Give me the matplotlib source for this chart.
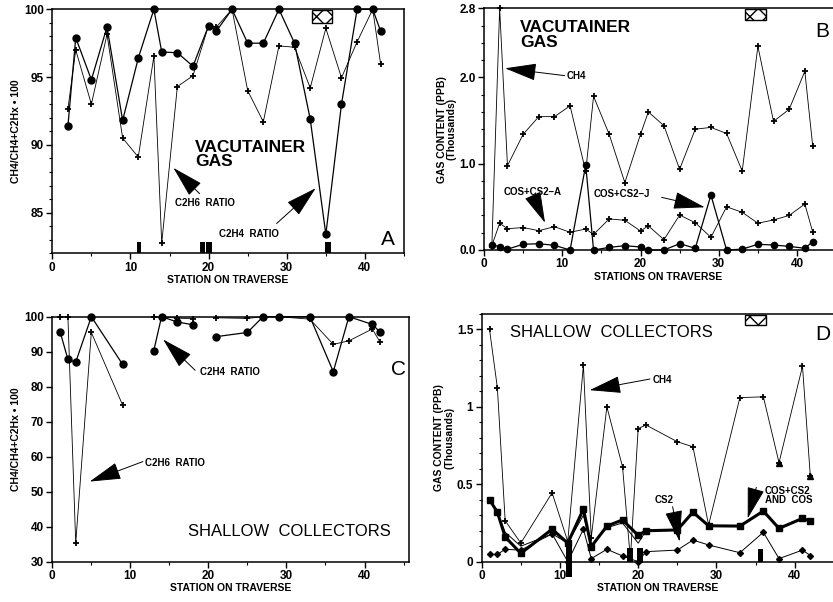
import numpy as np
import matplotlib
matplotlib.use("Agg")
import matplotlib.pyplot as plt
from matplotlib.patches import Rectangle
from matplotlib.ticker import MultipleLocator

plt.rcParams['font.family'] = ['Liberation Sans', 'DejaVu Sans']

# ---- panel A: vacutainer gas ratios
st_a = [2, 3, 5, 7, 9, 11, 13, 14, 16, 18, 20, 21, 23, 25, 27, 29, 31, 33, 35, 37, 39, 41, 42]
c2h4_a = [91.4, 97.9, 94.8, 98.7, 91.8, 96.4, 100, 96.85, 96.8, 95.8, 98.8, 98.4, 100,
          97.5, 97.5, 100, 97.5, 91.9, 83.4, 93.0, 100, 100, 98.4]
c2h6_a = [92.65, 97.0, 93.0, 98.15, 90.5, 89.1, 96.55, 82.75, 94.3, 95.1, 98.8, 98.7, 100,
          94.0, 91.7, 97.3, 97.2, 94.2, 98.6, 94.95, 97.6, 100, 96.0]

# ---- panel B: vacutainer gas content (thousands ppb)
st_b = [1, 2, 3, 5, 7, 9, 11, 13, 14, 16, 18, 20, 21, 23, 25, 27, 29, 31, 33, 35, 37, 39, 41, 42]
ch4_b = [0.04, 2.8, 0.977, 1.34, 1.545, 1.545, 1.67, 0.91, 1.78, 1.34, 0.78, 1.34, 1.60,
         1.44, 0.935, 1.40, 1.42, 1.35, 0.915, 2.36, 1.49, 1.63, 2.07, 1.21]
cos_a_b = [0.05, 0.31, 0.247, 0.26, 0.224, 0.27, 0.205, 0.243, 0.18, 0.36, 0.344, 0.22, 0.28,
           0.12, 0.405, 0.316, 0.147, 0.50, 0.437, 0.31, 0.348, 0.40, 0.533, 0.21]
cos_j_b = [0.058, 0.04, 0.01, 0.066, 0.073, 0.054, 0.0, 0.985, 0.0, 0.03, 0.05, 0.035, 0.0,
           0.0, 0.073, 0.02, 0.637, 0.0, 0.01, 0.066, 0.058, 0.042, 0.02, 0.096]

# ---- panel C: shallow collector ratios (nan = no sample)
st_c = [1, 2, 3, 5, 9, 11, 13, 14, 16, 18, 20, 21, 25, 27, 29, 33, 36, 38, 41, 42]
c2h4_c = [95.7, 87.8, 87.0, 100, 86.4, np.nan, 90.3, 100, 98.5, 97.7, np.nan, 94.3, 95.5,
          100, 100, 100, 84.3, 100, 97.8, 95.6]
c2h6_c = [100, 100, 35.3, 95.5, 74.8, np.nan, 99.8, 100, 99.6, 99.4, np.nan, 99.7, 99.5,
          100, 100, 99.3, 92.1, 93.1, 96.5, 92.7]

# ---- panel D: shallow collector gas content (thousands ppb)
st_d_ch4 = [1, 2, 3, 5, 9, 11, 13, 14, 16, 18, 19, 20, 21, 25, 27, 29, 33, 36, 38, 41, 42]
ch4_d = [1.5, 1.125, 0.265, 0.12, 0.445, 0.13, 1.27, 0.155, 1.0, 0.613, 0.02, 0.86, 0.883,
         0.775, 0.742, 0.237, 1.06, 1.065, 0.64, 1.263, 0.553]
st_d = [1, 2, 3, 5, 9, 11, 13, 14, 16, 18, 20, 21, 25, 27, 29, 33, 36, 38, 41, 42]
coscs2_d = [0.40, 0.32, 0.16, 0.054, 0.21, 0.12, 0.34, 0.097, 0.23, 0.27, 0.17, 0.20, 0.205,
            0.32, 0.232, 0.23, 0.327, 0.215, 0.28, 0.262]
cos_d = [0.40, 0.32, 0.19, 0.10, 0.18, 0.12, 0.30, 0.10, 0.22, 0.25, 0.12, 0.20, 0.205,
         0.32, 0.232, 0.23, 0.327, 0.215, 0.28, 0.262]
cs2_d = [0.047, 0.047, 0.08, 0.075, 0.18, 0.0, 0.21, 0.02, 0.08, 0.037, 0.0, 0.065, 0.075,
         0.14, 0.108, 0.058, 0.19, 0.02, 0.075, 0.04]

W, H = 833, 602
ANN = dict(fontsize=7, fontweight='bold', va='center')


def make_ax(l, r, t, b):
    return fig.add_axes([l / W, 1 - b / H, (r - l) / W, (b - t) / H])


def stars(ax, x, y, lw=0.6):
    ax.plot(x, y, color='black', lw=lw, marker='+', ms=5, mew=1.3, clip_on=False, zorder=3)


def arrow(ax, tail, tip, hl=2.0, hw=0.55):
    ax.annotate('', xy=tip, xytext=tail,
                arrowprops=dict(arrowstyle='-|>,head_length=%s,head_width=%s' % (hl, hw),
                                color='black', lw=0.7, shrinkA=0, shrinkB=0,
                                mutation_scale=10))


def hatch_box(ax, x0, x1, y0, y1):
    ax.add_patch(Rectangle((x0, y0), x1 - x0, y1 - y0, facecolor='white',
                           edgecolor='black', hatch='xx', lw=1.0, zorder=5, clip_on=False))


def black_bar(ax, x0, x1, y0, y1):
    ax.add_patch(Rectangle((x0, y0), x1 - x0, y1 - y0, facecolor='black',
                           edgecolor='black', lw=0, zorder=5, clip_on=False))


def style(ax, xmax, ylim, ymaj, ymin, xlabel, ylabel, right=True):
    ax.set_xlim(0, xmax)
    ax.set_ylim(*ylim)
    ax.xaxis.set_major_locator(MultipleLocator(10))
    ax.xaxis.set_minor_locator(MultipleLocator(5))
    ax.yaxis.set_major_locator(MultipleLocator(ymaj))
    if ymin:
        ax.yaxis.set_minor_locator(MultipleLocator(ymin))
    ax.tick_params(which='major', direction='out', length=4, width=1, labelsize=8.5, pad=2)
    ax.tick_params(which='minor', direction='out', length=2.5, width=0.8)
    for lab in ax.get_xticklabels() + ax.get_yticklabels():
        lab.set_fontweight('bold')
    for s in ax.spines.values():
        s.set_linewidth(1.1)
    if not right:
        ax.spines['right'].set_visible(False)
    ax.set_xlabel(xlabel, fontsize=7.5, fontweight='bold', labelpad=1)
    ax.set_ylabel(ylabel, fontsize=7.5, fontweight='bold', labelpad=2, linespacing=0.95)


fig = plt.figure(figsize=(W / 100, H / 100), dpi=100)

# ---------------- A
ax = make_ax(52.3, 404, 9.3, 253.3)
ax.plot(st_a, c2h4_a, color='black', lw=0.9, marker='o', ms=5, clip_on=False, zorder=3)
stars(ax, st_a, c2h6_a)
style(ax, 45, (82, 100), 5, 1, 'STATION ON TRAVERSE', 'CH4/CH4+C2Hx \u2022 100')
hatch_box(ax, 33.2, 35.8, 99.0, 99.95)
for x0, x1 in [(10.8, 11.4), (18.9, 19.5), (19.7, 20.4), (34.9, 35.6)]:
    black_bar(ax, x0, x1, 82, 82.8)
ax.text(18.3, 89.3, 'VACUTAINER\nGAS', fontsize=12.5, fontweight='bold',
        va='center', ha='left', linespacing=0.95)
ax.text(15.7, 85.7, 'C2H6  RATIO', **ANN)
ax.text(21.3, 83.45, 'C2H4  RATIO', **ANN)
arrow(ax, (18.85, 86.4), (15.5, 88.3))
arrow(ax, (28.7, 84.2), (33.7, 86.8))
ax.text(43.0, 83.0, 'A', fontsize=15, va='center', ha='center', fontweight='light')

# ---------------- B
ax = make_ax(484, 833, 8.3, 250)
stars(ax, st_b, ch4_b)
stars(ax, st_b, cos_a_b)
ax.plot(st_b, cos_j_b, color='black', lw=0.9, marker='o', ms=4.5, clip_on=False, zorder=3)
style(ax, 44.6, (0, 2.8), 1.0, 0.2, 'STATIONS ON TRAVERSE',
      'GAS CONTENT (PPB)\n(Thousands)', right=False)
ax.set_yticks([0, 1, 2, 2.8])
ax.set_yticklabels(['0.0', '1.0', '2.0', '2.8'], fontweight='bold')
hatch_box(ax, 33.3, 36.1, 2.66, 2.797)
ax.text(4.6, 2.49, 'VACUTAINER\nGAS', fontsize=12.5, fontweight='bold',
        va='center', ha='left', linespacing=0.95)
ax.text(42.3, 2.53, 'B', fontsize=15, va='center', ha='left', fontweight='light')
ax.text(10.6, 2.016, 'CH4', **ANN)
arrow(ax, (10.3, 2.02), (2.7, 2.105))
ax.text(2.47, 0.676, 'COS+CS2\u2013A', **ANN)
arrow(ax, (6.6, 0.56), (7.8, 0.316))
ax.text(13.96, 0.645, 'COS+CS2\u2013J', **ANN)
arrow(ax, (22.7, 0.61), (28.2, 0.495))

# ---------------- C
ax = make_ax(52.3, 409, 316.7, 561.7)
ax.plot(st_c, c2h4_c, color='black', lw=0.9, marker='o', ms=5, clip_on=False, zorder=3)
stars(ax, st_c, c2h6_c)
style(ax, 45.7, (30, 100), 10, None, 'STATION ON TRAVERSE', 'CH4/CH4+C2Hx \u2022 100')
ax.text(18.9, 84.3, 'C2H4  RATIO', **ANN)
arrow(ax, (18.3, 84.7), (14.2, 93.5))
ax.text(11.9, 58.3, 'C2H6  RATIO', **ANN)
arrow(ax, (11.6, 58.6), (4.8, 52.9))
ax.text(17.4, 38.6, 'SHALLOW  COLLECTORS', fontsize=12, va='center', ha='left')
ax.text(44.4, 84.8, 'C', fontsize=15, va='center', ha='center', fontweight='light')

# ---------------- D
ax = make_ax(481.7, 833, 314, 561.7)
stars(ax, st_d_ch4, ch4_d)
ax.plot([st_d_ch4[-3], st_d_ch4[-1]], [ch4_d[-3], ch4_d[-1]], ls='none', marker='^',
        ms=4.5, color='black', zorder=4)
ax.plot(st_d, cos_d, color='black', lw=0.7, clip_on=False, zorder=3)
ax.plot(st_d, coscs2_d, color='black', lw=2.2, marker='s', ms=4.5, clip_on=False, zorder=3)
ax.plot(st_d, cs2_d, color='black', lw=0.7, marker='D', ms=3, clip_on=False, zorder=3)
style(ax, 44.9, (0, 1.6), 0.5, 0.1, 'STATION ON TRAVERSE',
      'GAS CONTENT (PPB)\n(Thousands)', right=False)
ax.set_yticks([0, 0.5, 1, 1.5])
ax.set_yticklabels(['0', '0.5', '1', '1.5'], fontweight='bold')
hatch_box(ax, 33.6, 36.4, 1.528, 1.593)
for x0, x1, y0, y1 in [(10.8, 11.6, -0.097, 0.14), (18.6, 19.3, 0, 0.086),
                       (19.9, 20.6, -0.01, 0.086), (35.3, 35.95, 0, 0.08)]:
    black_bar(ax, x0, x1, y0, y1)
ax.text(3.6, 1.48, 'SHALLOW  COLLECTORS', fontsize=12, va='center', ha='left')
ax.text(42.6, 1.47, 'D', fontsize=15, va='center', ha='left', fontweight='light')
ax.text(21.9, 1.173, 'CH4', **ANN)
arrow(ax, (21.5, 1.18), (13.8, 1.108))
ax.text(22.1, 0.398, 'CS2', **ANN)
arrow(ax, (24.4, 0.355), (25.3, 0.13))
ax.text(36.2, 0.43, 'COS+CS2\nAND  COS', fontsize=7, fontweight='bold', va='center',
        linespacing=0.9)
arrow(ax, (35.1, 0.48), (34.0, 0.28))

fig.savefig('out.png', dpi=100)
